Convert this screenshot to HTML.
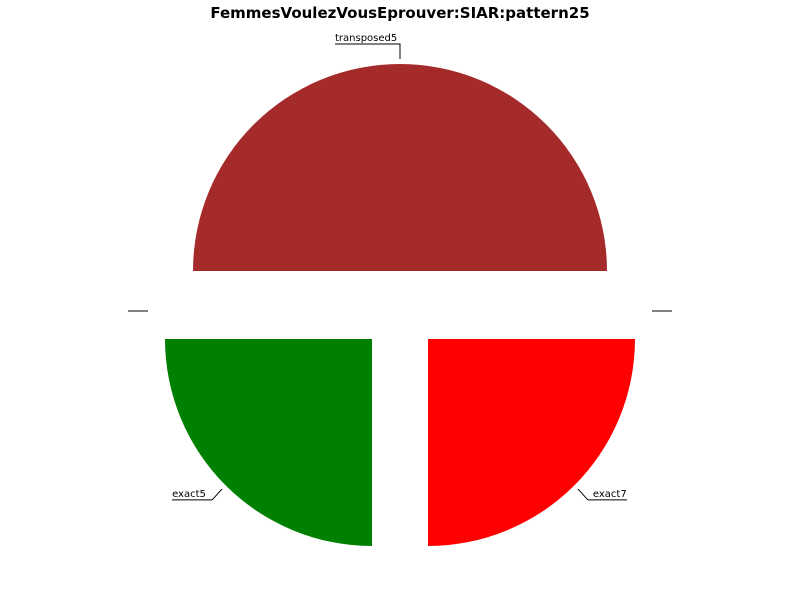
<!DOCTYPE html>
<html><head><meta charset="utf-8"><style>
body{margin:0;background:#fff;}
svg{display:block;font-family:"DejaVu Sans","Liberation Sans",sans-serif;}
</style></head><body>
<svg id="chart" width="800" height="600" viewBox="0 0 800 600">
<text x="400" y="18" text-anchor="middle" font-weight="bold" font-size="15">FemmesVoulezVousEprouver:SIAR:pattern25</text>
<line x1="128" y1="311" x2="148" y2="311" stroke="#000" stroke-width="1"/>
<line x1="652" y1="311" x2="672" y2="311" stroke="#000" stroke-width="1"/>
</svg>
<script>
const categories = ["transposed5","exact5","exact7"];
const values = [2,1,1];
const colors = ["#a52a2a","#008000","#ff0000"];
const offsets = [[0,-34],[-28,34],[28,34]];
const svg = document.getElementById('chart');
const NS = "http://www.w3.org/2000/svg";
const cx = 400, cy = 305, r = 207;
const total = values.reduce((a,b)=>a+b,0);
let a0 = 0;
function pt(x,y,ang,rad){return [x+rad*Math.cos(ang*Math.PI/180), y-rad*Math.sin(ang*Math.PI/180)];}
values.forEach((v,i)=>{
  const a1 = a0 + v/total*360;
  const ox = cx+offsets[i][0], oy = cy+offsets[i][1];
  const p0 = pt(ox,oy,a0,r), p1 = pt(ox,oy,a1,r);
  const large = (a1-a0)>180?1:0;
  const path = document.createElementNS(NS,'path');
  path.setAttribute('d',`M${ox},${oy} L${p0[0]},${p0[1]} A${r},${r} 0 ${large} 0 ${p1[0]},${p1[1]} Z`);
  path.setAttribute('fill',colors[i]);
  
  
  svg.appendChild(path);
  const mid = (a0+a1)/2;
  const e = pt(ox,oy,mid,r+5);
  const g = document.createElementNS(NS,'g');
  
  
  const c = Math.cos(mid*Math.PI/180);
  let d, tx, ty;
  if (Math.abs(c) < 0.01) {
    d = `M${e[0]},${e[1]} L${e[0]},${e[1]-15} L${e[0]-65},${e[1]-15}`;
    tx = e[0]-65; ty = e[1]-18;
  } else if (c > 0) {
    const k=[e[0]+10,e[1]+11];
    d = `M${e[0]},${e[1]} L${k[0]},${k[1]} L${k[0]+39},${k[1]}`;
    tx = k[0]+5; ty = k[1]-3;
  } else {
    const k=[e[0]-10,e[1]+11];
    d = `M${e[0]},${e[1]} L${k[0]},${k[1]} L${k[0]-40},${k[1]}`;
    tx = k[0]-40; ty = k[1]-3;
  }
  const ln = document.createElementNS(NS,'path');
  ln.setAttribute('d',d); ln.setAttribute('fill','none'); ln.setAttribute('stroke','#000'); ln.setAttribute('stroke-width','1');
  g.appendChild(ln);
  const t = document.createElementNS(NS,'text');
  t.setAttribute('x',tx); t.setAttribute('y',ty); t.setAttribute('font-size','10');
  t.textContent = categories[i];
  g.appendChild(t);
  svg.appendChild(g);
  a0 = a1;
});
</script>
</body></html>
